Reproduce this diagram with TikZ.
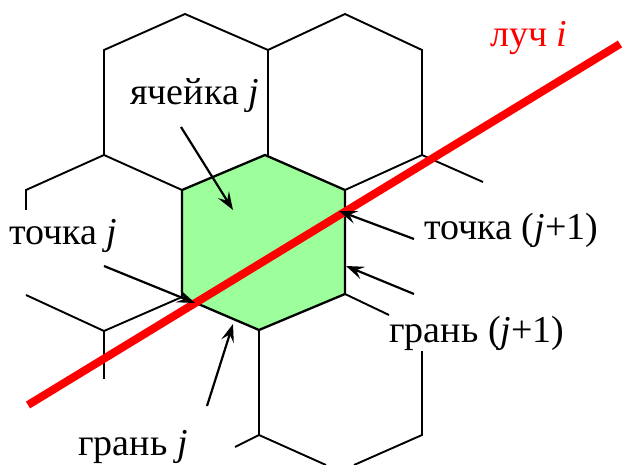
\documentclass[tikz,border=0pt]{standalone}
\usepackage{fontspec}
\setmainfont{Liberation Serif}
\usetikzlibrary{arrows.meta}
\definecolor{cellgreen}{RGB}{156,255,156}

\begin{document}
\begin{tikzpicture}[
    x=0.5pt,
    y=-0.5pt,
    >=Stealth,
    edge/.style={draw, line width=0.95pt},
    cell/.style={draw, fill=cellgreen, line width=1.15pt, line join=miter},
    pointer/.style={line width=1.1pt, {Stealth[length=9pt, width=6.5pt, inset=3.5pt]}-},
    ray/.style={draw=red, line width=4pt},
    label/.style={anchor=base west, inner sep=0pt, font=\fontsize{19}{22}\selectfont}
]
    \useasboundingbox (0,0) rectangle (622,465);

    \coordinate (top1) at (185,14);
    \coordinate (top2) at (345,14);
    \coordinate (a1) at (104,50);
    \coordinate (a2) at (268,50);
    \coordinate (a3) at (422,50);
    \coordinate (b1) at (104,155);
    \coordinate (b2) at (265,155);
    \coordinate (b2s) at (268,155);
    \coordinate (b3) at (422,155);
    \coordinate (c0) at (26,190);
    \coordinate (c1) at (182,190);
    \coordinate (c2) at (345,190);
    \coordinate (c3) at (483,182);
    \coordinate (d0) at (26,210);
    \coordinate (e0) at (26,295);
    \coordinate (e1) at (182,297);
    \coordinate (e2) at (345,294);
    \coordinate (e3) at (389,315);
    \coordinate (f1) at (104,331);
    \coordinate (f2) at (259,330);
    \coordinate (g1) at (104,379);
    \coordinate (g2) at (422,351);
    \coordinate (h1) at (259,435);
    \coordinate (h2) at (422,435);
    \coordinate (h0) at (235,447);
    \coordinate (k1) at (326,465);
    \coordinate (k2) at (354,465);

    \draw [edge] (b1) -- (a1) -- (top1) -- (a2) -- (top2) -- (a3) -- (b3);
    \draw [edge] (a2) -- (b2s);
    \draw [edge] (d0) -- (c0) -- (b1) -- (c1);
    \draw [edge] (b3) -- (c3);
    \draw [edge] (e0) -- (f1) -- (e1);
    \draw [edge] (f1) -- (g1);
    \draw [edge] (f2) -- (h1) -- (k1);
    \draw [edge] (h1) -- (h0);
    \draw [edge] (e2) -- (e3);
    \draw [edge] (g2) -- (h2) -- (k2);
    \draw [edge] (b3) -- (c2);

    \draw [cell] (c1) -- (b2) -- (c2) -- (e2) -- (f2) -- (e1) -- cycle;

    \coordinate (ray_a) at (28,405);
    \coordinate (ray_b) at (620,44);
    \draw [ray] (ray_a) -- (ray_b);

    \node [label, text=red] (ray_lbl) at (490,47) {луч \textit{i}};
    \node [label] (cell_lbl) at (130,105) {ячейка \textit{j}};
    \node [label] (pt_lbl) at (9,245) {точка \textit{j}};
    \node [label] (pt2_lbl) at (424,240) {точка (\textit{j}+1)};
    \node [label] (face2_lbl) at (389,343) {грань (\textit{j}+1)};
    \node [label] (face_lbl) at (78,455) {грань \textit{j}};

    \coordinate (cell_from) at (181,127);
    \coordinate (cell_to) at (233,210);
    \coordinate (pt_from) at (104,266);
    \coordinate (pt_to) at (195,303);
    \coordinate (pt2_from) at (414,239);
    \coordinate (pt2_to) at (339,211);
    \coordinate (face2_from) at (414,294);
    \coordinate (face2_to) at (346,266);
    \coordinate (face_from) at (207,406);
    \coordinate (face_to) at (233,324);

    \draw [pointer] (cell_to) -- (cell_from);
    \draw [pointer] (pt_to) -- (pt_from);
    \draw [pointer] (pt2_to) -- (pt2_from);
    \draw [pointer] (face2_to) -- (face2_from);
    \draw [pointer] (face_to) -- (face_from);

\end{tikzpicture}
\end{document}
